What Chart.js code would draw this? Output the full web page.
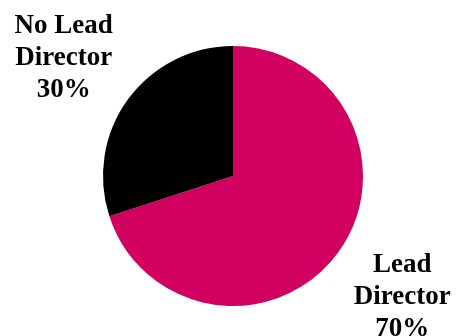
<!DOCTYPE html>
<html>
<head>
<meta charset="utf-8">
<script src="https://cdn.jsdelivr.net/npm/chart.js@4"></script>
<style>
  html, body { margin: 0; padding: 0; background: #ffffff; }
  #wrap { width: 456px; height: 336px; }
</style>
</head>
<body>
<div id="wrap"><canvas id="pieChart" width="456" height="336"></canvas></div>
<script>
// --- Data ---
const categories = ['Lead Director', 'No Lead Director'];
const labelLines = [['Lead', 'Director'], ['No Lead', 'Director']];
const shares = [70, 30];
const sliceColors = ['#D20060', '#000000'];

// Draw the outside labels next to each slice
const outsideLabels = {
    id: 'outsideLabels',
    afterDraw(chart) {
        const ctx = chart.ctx;
        const meta = chart.getDatasetMeta(0);
        ctx.save();
        ctx.fillStyle = '#000000';
        ctx.font = 'bold 27px "Liberation Serif", serif';
        ctx.textAlign = 'center';
        ctx.textBaseline = 'middle';
        meta.data.forEach((arc, i) => {
            const mid = (arc.startAngle + arc.endAngle) / 2;
            const x = arc.x + Math.cos(mid) * arc.outerRadius * 1.61;
            const y = arc.y + Math.sin(mid) * arc.outerRadius * 1.56 + 1.5;
            const lines = labelLines[i].concat([shares[i] + '%']);
            const lineH = 32;
            lines.forEach((txt, j) => {
                ctx.fillText(txt, x, y + (j - 1) * lineH);
            });
        });
        ctx.restore();
    }
};

new Chart(document.getElementById('pieChart'), {
    type: 'pie',
    data: {
        labels: categories,
        datasets: [{
            data: shares,
            backgroundColor: sliceColors,
            borderWidth: 0
        }]
    },
    options: {
        responsive: false,
        animation: false,
        layout: { padding: { top: 46, bottom: 30, left: 103, right: 93 } },
        plugins: {
            legend: { display: false },
            tooltip: { enabled: false }
        }
    },
    plugins: [outsideLabels]
});
</script>
</body>
</html>
